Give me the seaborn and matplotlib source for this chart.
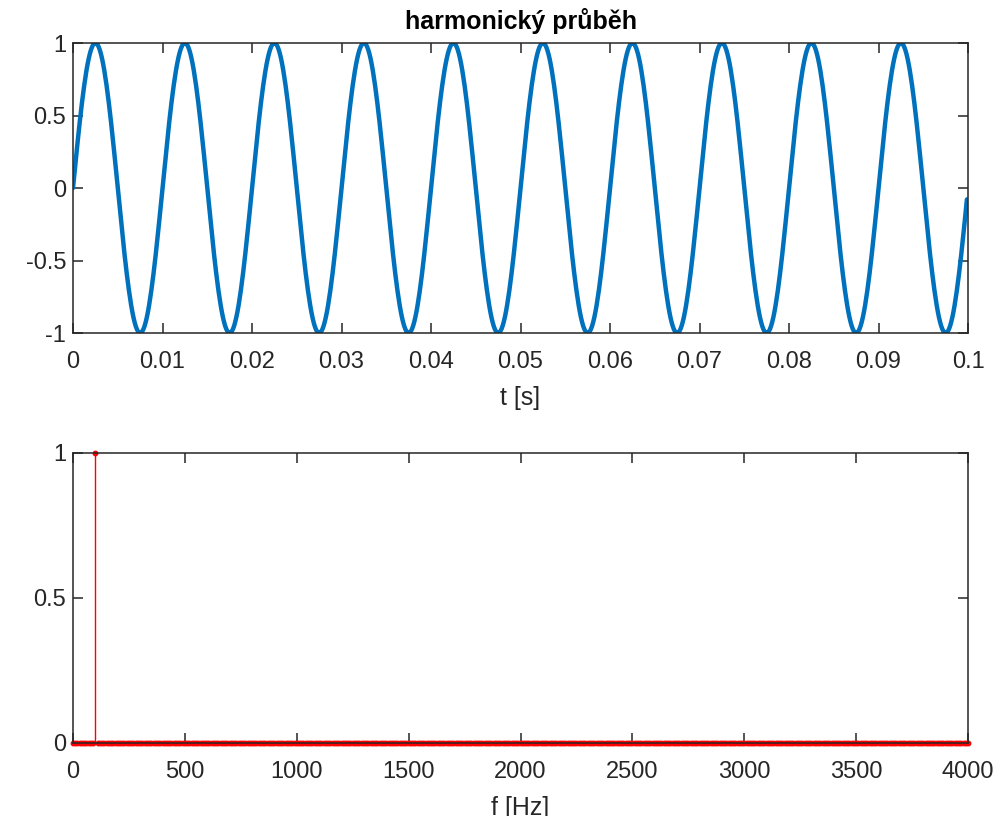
import numpy as np
import pandas as pd
import matplotlib
matplotlib.use("Agg")
import matplotlib.pyplot as plt
import seaborn as sns
from matplotlib.ticker import FuncFormatter

# Signal parameters
signal_freq = 100.0      # Hz
signal_amp = 1.0
sample_rate = 8000.0     # Hz
n_samples = 800

# Spectrum: one spectral line at the signal frequency, zero elsewhere
spectrum_step = 10.0     # Hz
spectrum_max = 4000.0    # Hz
peak_freq = 100.0
peak_amp = 1.0

t_ticks = [0, 0.01, 0.02, 0.03, 0.04, 0.05, 0.06, 0.07, 0.08, 0.09, 0.1]
y_ticks_top = [-1, -0.5, 0, 0.5, 1]
f_ticks = [0, 500, 1000, 1500, 2000, 2500, 3000, 3500, 4000]
y_ticks_bottom = [0, 0.5, 1]

t = np.arange(n_samples) / sample_rate
x = signal_amp * np.sin(2 * np.pi * signal_freq * t)
wave = pd.DataFrame({"t": t, "x": x})

freqs = np.arange(0, spectrum_max + spectrum_step / 2, spectrum_step)
amps = np.where(np.isclose(freqs, peak_freq), peak_amp, 0.0)

sns.set_theme(style="white")
plt.rcParams["font.family"] = ["Liberation Sans", "DejaVu Sans"]

fig = plt.figure(figsize=(10.07, 8.16), dpi=100)
ax1 = fig.add_axes([0.0725, 0.5919, 0.8888, 0.3554])
ax2 = fig.add_axes([0.0725, 0.0895, 0.8888, 0.3554])

def fmt(v, pos):
    return "%g" % v

text_col = "#262626"
for ax in (ax1, ax2):
    for sp in ax.spines.values():
        sp.set_color(text_col)
        sp.set_linewidth(1.1)
        sp.set_zorder(5)
    ax.tick_params(direction="in", length=7, width=1.1, color=text_col,
                   labelsize=17, labelcolor=text_col,
                   top=True, right=True, bottom=True, left=True)
    ax.tick_params(axis="x", pad=13)
    ax.tick_params(axis="y", pad=5)
    ax.xaxis.set_major_formatter(FuncFormatter(fmt))
    ax.yaxis.set_major_formatter(FuncFormatter(fmt))
    ax.set_facecolor("white")

sns.lineplot(data=wave, x="t", y="x", ax=ax1, color="#0072BD", linewidth=3.2)
ax1.set_xlim(0, 0.1)
ax1.set_ylim(-1, 1)
ax1.set_xticks(t_ticks)
ax1.set_yticks(y_ticks_top)
ax1.set_xlabel("t [s]", fontsize=18, color=text_col, labelpad=9)
ax1.set_ylabel("")
ax1.set_title("harmonický průběh", fontsize=18, fontweight="bold",
              color="black", pad=10)

markerline, stemlines, baseline = ax2.stem(freqs, amps, basefmt=" ")
plt.setp(stemlines, color="red", linewidth=1.0)
plt.setp(markerline, color="red", marker="o", markersize=3.2,
         markerfacecolor="red", markeredgecolor="red", clip_on=False, zorder=3)
ax2.set_xlim(0, 4000)
ax2.set_ylim(0, 1)
ax2.set_xticks(f_ticks)
ax2.set_yticks(y_ticks_bottom)
ax2.set_xlabel("f [Hz]", fontsize=18, color=text_col, labelpad=9)
ax2.set_ylabel("")

fig.savefig("out.png", dpi=100, facecolor="white")
